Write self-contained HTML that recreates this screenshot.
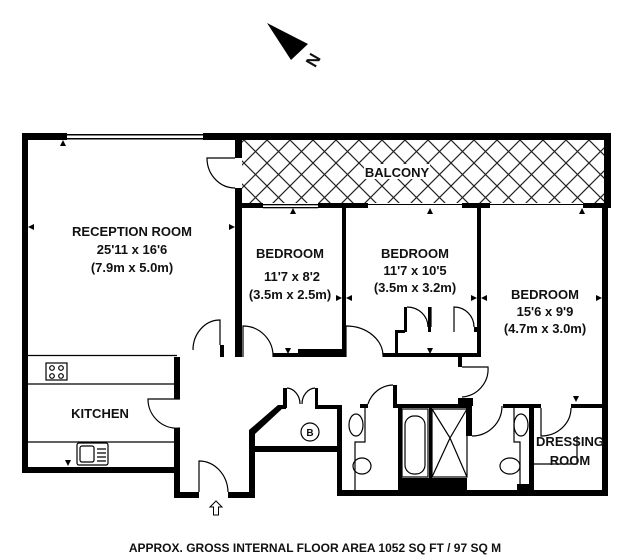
<!DOCTYPE html>
<html><head><meta charset="utf-8"><style>
html,body{margin:0;padding:0;background:#fff;}
svg{display:block;}
text{font-family:"Liberation Sans",Arial,sans-serif;font-weight:bold;fill:#111;}
</style></head><body>
<svg width="630" height="559" viewBox="0 0 630 559" xmlns="http://www.w3.org/2000/svg">
<defs>
<pattern id="h" width="23" height="23" patternUnits="userSpaceOnUse" x="244" y="140">
<path d="M0 0 L23 23 M23 0 L0 23" stroke="#222" stroke-width="1.2" fill="none"/>
</pattern>
</defs>
<polygon points="267,23 308,44 291,60" fill="#000"/>
<text x="313" y="66" font-size="17" font-weight="normal" transform="rotate(-60 313 60)" text-anchor="middle">N</text>
<rect x="242" y="139" width="366" height="64" fill="url(#h)"/>
<rect x="364" y="164" width="66" height="15" fill="#fff"/>
<g fill="#000">
<rect x="22" y="133" width="45" height="7"/>
<rect x="203" y="133" width="408" height="7"/>
<rect x="604" y="133" width="7" height="75"/>
<rect x="67" y="134" width="136" height="1.5"/>
<rect x="67" y="138" width="136" height="1.5"/>
<rect x="22" y="133" width="6" height="340"/>
<rect x="235" y="133" width="7" height="25"/>
<rect x="235" y="188" width="7" height="169"/>
<rect x="242" y="203" width="21" height="5"/>
<rect x="318" y="203" width="50" height="5"/>
<rect x="462" y="203" width="28" height="5"/>
<rect x="583" y="203" width="25" height="5"/>
<rect x="602" y="203" width="6" height="293"/>
<rect x="342" y="208" width="4" height="149"/>
<rect x="477" y="208" width="4" height="149"/>
<rect x="220" y="345" width="4" height="12"/>
<rect x="273" y="353" width="73" height="4"/>
<rect x="298" y="349" width="44" height="8"/>
<rect x="383" y="353" width="98" height="4"/>
<rect x="395" y="330" width="3" height="25"/>
<rect x="395" y="330" width="10" height="3"/>
<rect x="404" y="307" width="3" height="25"/>
<rect x="428" y="307" width="3" height="25"/>
<rect x="474" y="327" width="3" height="5"/>
<rect x="458" y="357" width="4" height="10"/>
<rect x="22" y="467" width="156" height="6"/>
<rect x="174" y="357" width="6" height="42"/>
<rect x="174" y="428" width="6" height="70"/>
<rect x="174" y="492" width="25" height="6"/>
<rect x="228" y="492" width="27" height="6"/>
<rect x="249" y="430" width="6" height="68"/>
<polygon points="249,430 278,405 283,408 255,434"/>
<rect x="278" y="405" width="8" height="4"/>
<rect x="283" y="388" width="4" height="20"/>
<rect x="315" y="388" width="3" height="20"/>
<rect x="315" y="405" width="27" height="4"/>
<rect x="252" y="446" width="90" height="6"/>
<rect x="337" y="405" width="5" height="91"/>
<rect x="337" y="490" width="271" height="6"/>
<rect x="360" y="404" width="8" height="4"/>
<rect x="393" y="385" width="4" height="23"/>
<rect x="393" y="404" width="73" height="4"/>
<rect x="398" y="404" width="4" height="86"/>
<rect x="429" y="404" width="3" height="86"/>
<rect x="458" y="398" width="15" height="8"/>
<rect x="466" y="404" width="6" height="32"/>
<rect x="401" y="478" width="66" height="13"/>
<rect x="503" y="404" width="38" height="4"/>
<rect x="529" y="404" width="5" height="90"/>
<rect x="517" y="484" width="12" height="8"/>
<rect x="571" y="404" width="35" height="4"/>
<rect x="263" y="204" width="55" height="1.3"/>
<rect x="263" y="207" width="55" height="1.3"/>
<rect x="368" y="204" width="94" height="1"/>
<rect x="490" y="204" width="93" height="1"/>
</g>
<g fill="none" stroke="#000" stroke-width="1.2">
<path d="M235,158 H207 A28,30 0 0 0 235,188"/>
<path d="M220,345 V320 A27,30 0 0 0 193,350"/>
<path d="M243,357 V326 A30,30 0 0 1 273,357"/>
<path d="M346,357 V326 A37,30 0 0 1 383,357"/>
<path d="M407,307 A21,20 0 0 1 428,327"/>
<path d="M474,327 A20,20 0 0 0 454,307 V332"/>
<path d="M431,307 V327"/>
<path d="M180,399 H148 A29,29 0 0 0 180,428"/>
<path d="M199,492 V461 A29,32 0 0 1 228,492"/>
<path d="M287,388 A14,16 0 0 1 300,404"/>
<path d="M315,388 A14,16 0 0 0 302,404"/>
<path d="M368,404 A27,27 0 0 1 393,385"/>
<path d="M462,367 H488 A28,28 0 0 1 462,397"/>
<path d="M472,436 A30,30 0 0 0 502,406"/>
<path d="M571,408 A30,28 0 0 1 541,436 V408"/>
<path d="M28,355.5 H177 M28,384 H174 M28,442 H174"/>
<rect x="46" y="363" width="21" height="17"/>
<circle cx="52" cy="368" r="2.3"/><circle cx="61" cy="368" r="2.3"/>
<circle cx="52" cy="376" r="2.3"/><circle cx="61" cy="376" r="2.3"/>
<rect x="77" y="443" width="31" height="22" rx="2"/>
<rect x="80" y="446" width="14" height="16" rx="2"/>
<path d="M97,449 H106 M97,453 H106 M97,457 H106 M97,461 H106"/>
<circle cx="310" cy="432" r="9"/>
<path d="M365,408 V442 H355 V490"/>
<ellipse cx="356" cy="425" rx="7" ry="11"/>
<ellipse cx="362" cy="466" rx="9" ry="8"/>
<rect x="402" y="409" width="26" height="68"/>
<rect x="405" y="416" width="20" height="58" rx="9"/>
<rect x="432" y="409" width="35" height="68"/>
<path d="M432,409 L450,438 L467,409 M432,477 L450,438 L467,477"/>
<path d="M514,408 V442 H520 V484"/>
<ellipse cx="521" cy="425" rx="7" ry="11"/>
<ellipse cx="510" cy="466" rx="10" ry="8"/>
<path d="M534,464 H577 V436"/>
</g>
<g fill="#000">
<polygon points="60,146 66,146 63,140"/>
<polygon points="290,214 296,214 293,208"/>
<polygon points="427,214 433,214 430,208"/>
<polygon points="579,214 585,214 582,208"/>
<polygon points="28,227 34,224 34,230"/>
<polygon points="235,227 229,224 229,230"/>
<polygon points="342,298 336,295 336,301"/>
<polygon points="346,298 352,295 352,301"/>
<polygon points="477,298 471,295 471,301"/>
<polygon points="481,298 487,295 487,301"/>
<polygon points="602,298 596,295 596,301"/>
<polygon points="285,348 291,348 288,354"/>
<polygon points="427,348 433,348 430,354"/>
<polygon points="65,460 71,460 68,466"/>
<polygon points="573,396 579,396 576,402"/>
</g>
<path d="M210,507 L216,501 L222,507 H218.5 V515 H213.5 V507 Z" fill="none" stroke="#000" stroke-width="1"/>
<g font-size="13" text-anchor="middle">
<text x="397" y="177">BALCONY</text>
<text x="132" y="236">RECEPTION ROOM</text>
<text x="132" y="254">25'11 x 16'6</text>
<text x="132" y="272">(7.9m x 5.0m)</text>
<text x="290" y="258">BEDROOM</text>
<text x="292" y="281">11'7 x 8'2</text>
<text x="290" y="299">(3.5m x 2.5m)</text>
<text x="415" y="258">BEDROOM</text>
<text x="415" y="275">11'7 x 10'5</text>
<text x="415" y="292">(3.5m x 3.2m)</text>
<text x="545" y="299">BEDROOM</text>
<text x="545" y="316">15'6 x 9'9</text>
<text x="545" y="333">(4.7m x 3.0m)</text>
<text x="100" y="418">KITCHEN</text>
<text x="570" y="446">DRESSING</text>
<text x="570" y="465">ROOM</text>
<text x="310" y="436" font-size="10">B</text>
<text x="315" y="552" font-size="12">APPROX. GROSS INTERNAL FLOOR AREA 1052 SQ FT / 97 SQ M</text>
</g>
</svg>
</body></html>
